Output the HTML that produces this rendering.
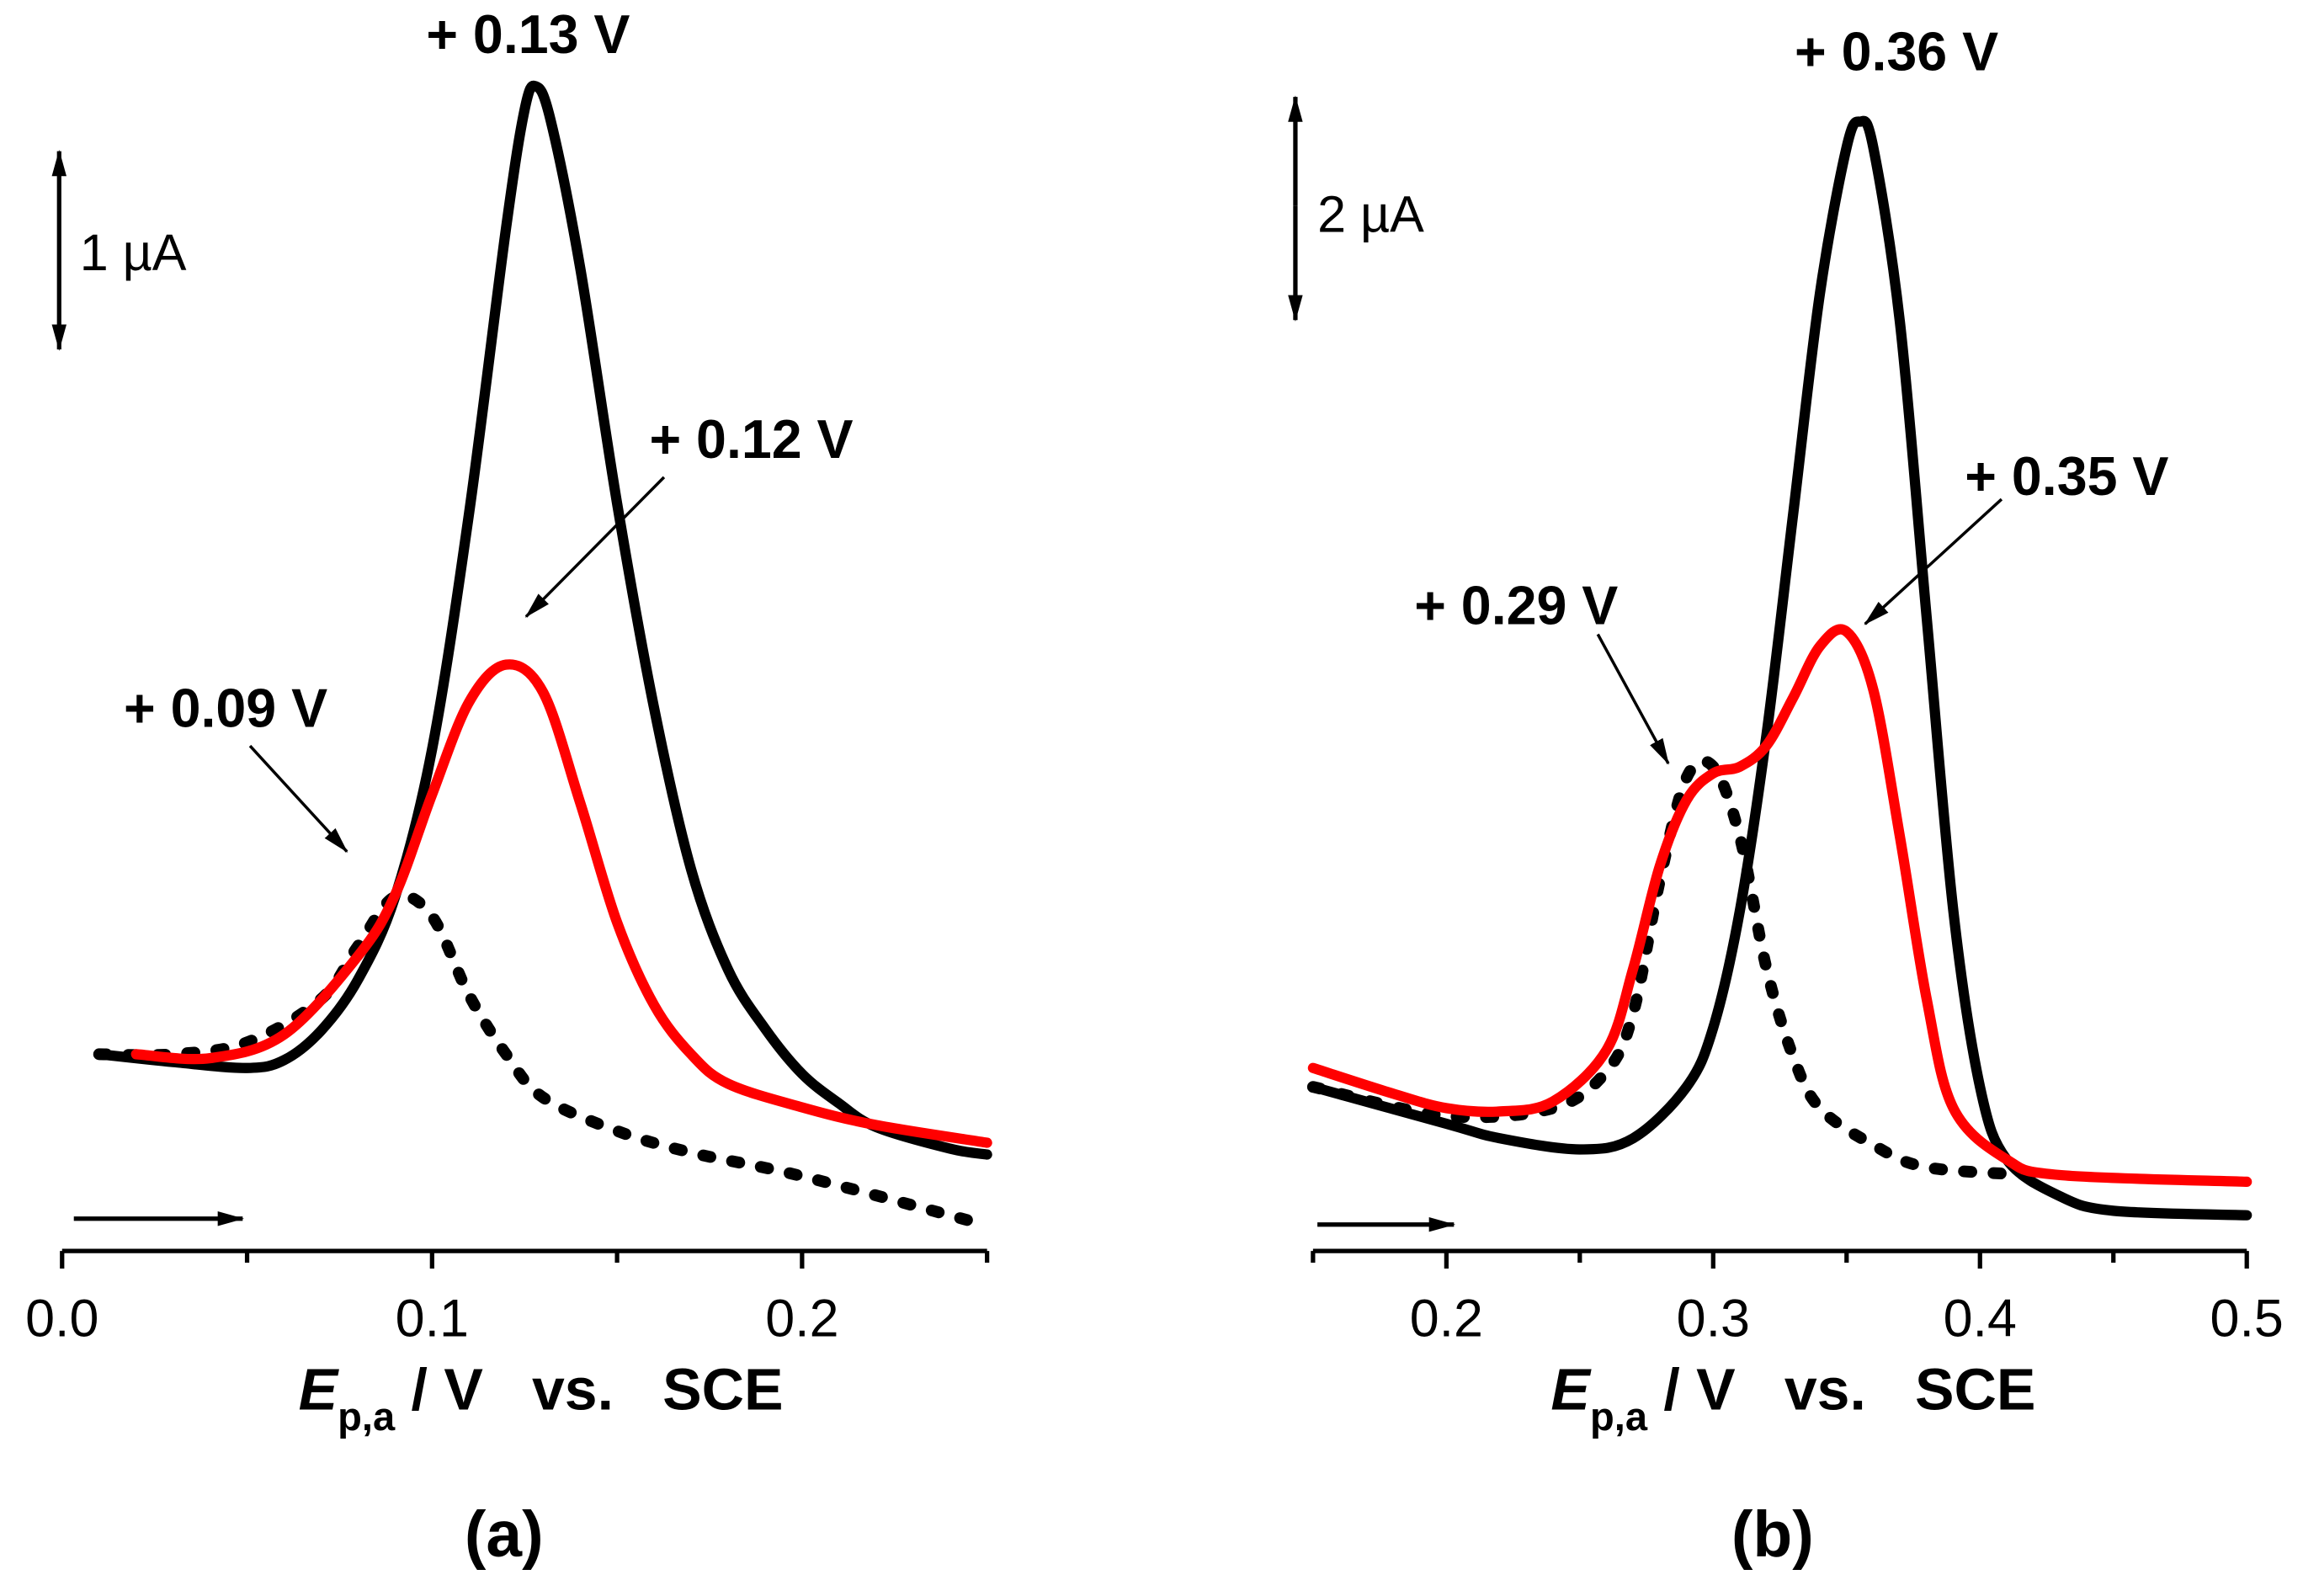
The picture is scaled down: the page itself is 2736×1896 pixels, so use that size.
<!DOCTYPE html>
<html><head><meta charset="utf-8"><style>
html,body{margin:0;padding:0;background:#fff;}
svg{display:block;}
text{font-family:"Liberation Sans",Arial,sans-serif;}
</style></head><body>
<svg id="chart" width="2736" height="1896" viewBox="0 0 1568 1087" xmlns="http://www.w3.org/2000/svg">
<defs>
<marker id="ahs" markerWidth="18" markerHeight="10" refX="17" refY="5" orient="auto" markerUnits="userSpaceOnUse"><path d="M0,0 L18,5 L0,10 z" fill="#000"/></marker>
</defs>
<g id="pa"></g>
<g id="pb"></g>
</svg>
<script>
// Panel a data (potential V, current µA relative)
const aBlackX=[0.01,0.03,0.05,0.06,0.07,0.08,0.09,0.1,0.11,0.12,0.125,0.128,0.132,0.14,0.15,0.16,0.17,0.18,0.19,0.2,0.21,0.22,0.24,0.25];
const aBlackY=[1.00,0.96,0.93,0.97,1.12,1.38,1.80,2.55,3.75,5.20,5.80,5.92,5.75,5.00,3.80,2.76,1.94,1.43,1.13,0.90,0.75,0.63,0.52,0.49];
const aRedX=[0.02,0.04,0.06,0.08,0.09,0.1,0.11,0.12,0.13,0.14,0.15,0.16,0.17,0.18,0.2,0.22,0.25];
const aRedY=[1.00,0.98,1.10,1.50,1.81,2.32,2.79,2.98,2.84,2.28,1.67,1.25,1.00,0.85,0.73,0.64,0.55];
const aDotX=[0.01,0.03,0.05,0.07,0.08,0.09,0.1,0.11,0.12,0.13,0.15,0.17,0.2,0.25];
const aDotY=[1.00,1.00,1.06,1.28,1.55,1.80,1.70,1.30,1.00,0.78,0.61,0.50,0.38,0.13];
const aTicks=["0.0","0.1","0.2"];
const aTickVals=[0.0,0.1,0.2];
// Panel b data
const bBlackX=[0.15,0.2,0.22,0.25,0.27,0.29,0.3,0.31,0.32,0.33,0.34,0.35,0.355,0.36,0.37,0.38,0.39,0.4,0.41,0.43,0.45,0.5];
const bBlackY=[1.47,1.14,1.01,0.91,1.01,1.47,2.00,3.05,4.63,6.61,8.58,9.89,10.12,9.89,8.32,5.68,3.05,1.47,0.82,0.49,0.36,0.32];
const bRedX=[0.15,0.18,0.2,0.22,0.24,0.26,0.27,0.28,0.29,0.3,0.31,0.32,0.33,0.34,0.35,0.36,0.37,0.38,0.39,0.41,0.43,0.5];
const bRedY=[1.64,1.41,1.28,1.25,1.34,1.80,2.53,3.45,4.04,4.28,4.34,4.53,4.96,5.42,5.55,5.03,3.71,2.26,1.28,0.82,0.68,0.62];
const bDotX=[0.15,0.2,0.24,0.26,0.27,0.28,0.29,0.3,0.31,0.32,0.33,0.34,0.36,0.38,0.42];
const bDotY=[1.47,1.21,1.28,1.61,2.13,3.32,4.24,4.34,3.71,2.53,1.74,1.28,0.95,0.75,0.68];
const bTicks=["0.2","0.3","0.4","0.5"];
const bTickVals=[0.2,0.3,0.4,0.5];

const NS="http://www.w3.org/2000/svg";
function mk(tag,attrs,parent){const e=document.createElementNS(NS,tag);for(const k in attrs)e.setAttribute(k,attrs[k]);parent.appendChild(e);return e;}
function smooth(pts){let d="M"+pts[0][0]+","+pts[0][1];for(let i=0;i<pts.length-1;i++){const p0=pts[Math.max(0,i-1)],p1=pts[i],p2=pts[i+1],p3=pts[Math.min(pts.length-1,i+2)];const c1x=p1[0]+(p2[0]-p0[0])/6,c1y=p1[1]+(p2[1]-p0[1])/6,c2x=p2[0]-(p3[0]-p1[0])/6,c2y=p2[1]-(p3[1]-p1[1])/6;d+=" C"+c1x+","+c1y+" "+c2x+","+c2y+" "+p2[0]+","+p2[1];}return d;}

function panel(g,ticks,tickVals,x0,x1,v0,v1,yBase,pxPerUA,series){
  const sx=v=>x0+(v-v0)/(v1-v0)*(x1-x0);
  const sy=i=>yBase-i*pxPerUA;
  series.forEach(s=>{
    const pts=s.x.map((v,i)=>[sx(v),sy(s.y[i])]);
    const p=mk("path",{d:smooth(pts),fill:"none",stroke:s.c,"stroke-width":s.dot?8:7,"stroke-linecap":"round","stroke-linejoin":"round"},g);
    if(s.dot)p.setAttribute("stroke-dasharray","5 15");
    
    
  });
  const ax=mk("line",{x1:x0,y1:852,x2:x1,y2:852,stroke:"#000","stroke-width":3},g);
  
  
  for(let v=v0;v<=v1+1e-9;v+=0.05){
    const major=tickVals.some(t=>Math.abs(t-v)<1e-6);
    const t=mk("line",{x1:sx(v),y1:852,x2:sx(v),y2:major?864:860,stroke:"#000","stroke-width":3},g);
    
    
  }
  tickVals.forEach((v,i)=>{
    const t=mk("text",{x:sx(v),y:910,"font-size":36,"text-anchor":"middle"},g);
    t.textContent=ticks[i];
    
    
  });
}
const ga=document.getElementById("pa"),gb=document.getElementById("pb");
panel(ga,aTicks,aTickVals,42,672,0,0.25,852,134,[
  {x:aDotX,y:aDotY,c:"#000",dot:true,name:"series-a-dotted"},
  {x:aBlackX,y:aBlackY,c:"#000",name:"series-a-black"},
  {x:aRedX,y:aRedY,c:"#ff0000",name:"series-a-red"}]);
panel(gb,bTicks,bTickVals,894,1530,0.15,0.5,852,76,[
  {x:bDotX,y:bDotY,c:"#000",dot:true,name:"series-b-dotted"},
  {x:bBlackX,y:bBlackY,c:"#000",name:"series-b-black"},
  {x:bRedX,y:bRedY,c:"#ff0000",name:"series-b-red"}]);
</script>
<script>
(function(){
const svg=document.getElementById("chart");const NS="http://www.w3.org/2000/svg";
function mk(tag,attrs){const e=document.createElementNS(NS,tag);for(const k in attrs)e.setAttribute(k,attrs[k]);svg.appendChild(e);return e;}
function txt(x,y,s,size,name,extra){const t=mk("text",Object.assign({x:x,y:y,"font-size":size,"font-weight":"bold"},extra||{}));t.textContent=s;return t;}
txt(290,36,"+ 0.13 V",37,"peak-label-013");
txt(442,312,"+ 0.12 V",37,"peak-label-012");
txt(84,495,"+ 0.09 V",37,"peak-label-009");
txt(1222,48,"+ 0.36 V",37,"peak-label-036");
txt(1338,337,"+ 0.35 V",37,"peak-label-035");
txt(963,425,"+ 0.29 V",37,"peak-label-029");
function arr(x1,y1,x2,y2,name,w){const l=mk("line",{x1:x1,y1:y1,x2:x2,y2:y2,stroke:"#000","stroke-width":w||2,"marker-end":"url(#ahs)"});}
arr(452,325,358,420,"arrow-012");
arr(170,508,236,580,"arrow-009");
arr(1363,340,1270,425,"arrow-035");
arr(1088,432,1136,520,"arrow-029");
arr(50,830,165,830,"scan-direction-arrow-a",3);
arr(897,834,990,834,"scan-direction-arrow-b",3);
arr(40,170,40,103,"scale-bar-a-up",3);arr(40,170,40,238,"scale-bar-a-down",3);
arr(882,140,882,66,"scale-bar-b-up",3);arr(882,140,882,218,"scale-bar-b-down",3);
txt(54,184,"1 \u00B5A",35,"scale-label-a",{"font-weight":"normal"});
txt(897,158,"2 \u00B5A",35,"scale-label-b",{"font-weight":"normal"});
function xlab(x,name){const t=mk("text",{x:x,y:960,"font-size":40,"font-weight":"bold"});
t.innerHTML='<tspan font-style="italic">E</tspan><tspan dy="14" font-size="27">p,a</tspan><tspan dy="-14"> / V&#160;&#160;&#160;vs.&#160;&#160;&#160;SCE</tspan>';}
xlab(203,"x-axis-title-a");xlab(1056,"x-axis-title-b");
txt(343,1060,"(a)",44,"panel-caption-a",{"text-anchor":"middle"});
txt(1207,1060,"(b)",44,"panel-caption-b",{"text-anchor":"middle"});
})();
</script>
</body></html>
